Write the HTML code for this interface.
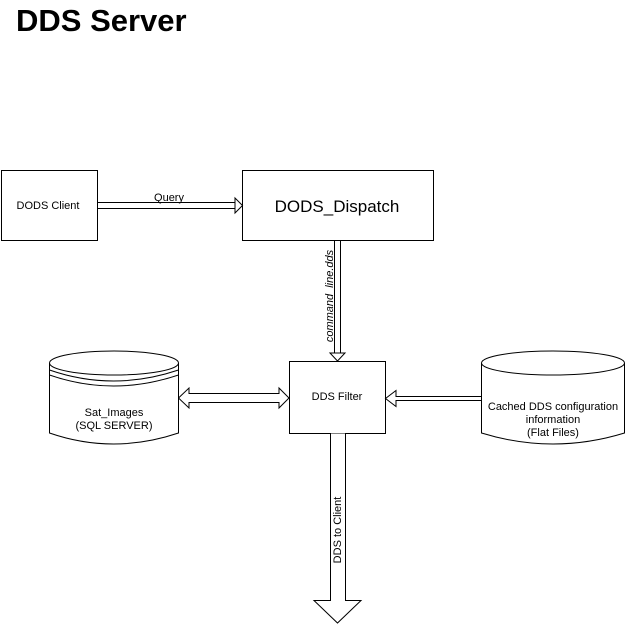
<!DOCTYPE html>
<html><head><style>
body{margin:0;background:#fff;width:626px;height:625px;overflow:hidden}
svg{display:block}
text{font-family:"Liberation Sans",Arial,sans-serif;fill:#000}
</style></head><body>
<svg width="626" height="625" viewBox="0 0 626 625">
<text x="16" y="31" font-size="31" font-weight="bold">DDS Server</text>
<g fill="#fff" stroke="#000" stroke-width="1">
<rect x="1.5" y="170.5" width="96" height="70"/>
<rect x="242.5" y="170.5" width="191" height="70"/>
<rect x="289.5" y="361.5" width="96" height="72"/>
<path d="M97.5 202.5 H235 M97.5 208.5 H235 M235 198 L242.5 205.5 L235 213 Z"/>
<path d="M334.5 240.5 V353 M340.5 240.5 V353 M330 353 L337.5 361 L345 353 Z"/>
<path d="M330.5 433.5 V600.5 H314 L337.5 623 L361 600.5 H345.5 V433.5"/>
<path d="M178.5 398 L189 388 V393.5 H279 V388 L289 398 L279 408 V402.5 H189 V408 Z"/>
<path d="M481 396.5 H396 V390.5 L385.5 398.5 L396 406.5 V400.5 H481"/>
<path d="M49.5 363 V433 Q113 455 178.5 433 V363"/>
<ellipse cx="114" cy="363" rx="64.5" ry="12"/>
<path d="M49.5 370 Q113 392 178.5 370 M49.5 375 Q113 397 178.5 375" fill="none"/>
<path d="M481.5 363 V433 Q553 455 624.5 433 V363"/>
<ellipse cx="553" cy="363" rx="71.5" ry="12"/>
</g>
<text x="48" y="209" font-size="11" text-anchor="middle">DODS Client</text>
<text x="337" y="212" font-size="17" text-anchor="middle">DODS_Dispatch</text>
<text x="169" y="201" font-size="11" text-anchor="middle">Query</text>
<text x="337" y="400" font-size="11" text-anchor="middle">DDS Filter</text>
<text x="114" y="416" font-size="11" text-anchor="middle">Sat_Images</text>
<text x="114" y="429" font-size="11" text-anchor="middle">(SQL SERVER)</text>
<text x="553" y="410" font-size="11" text-anchor="middle">Cached DDS configuration</text>
<text x="553" y="423" font-size="11" text-anchor="middle">information</text>
<text x="553" y="436" font-size="11" text-anchor="middle">(Flat Files)</text>
<text transform="translate(333,296) rotate(-90)" font-size="11" font-style="italic" text-anchor="middle">command_line.dds</text>
<text transform="translate(341,530) rotate(-90)" font-size="11" text-anchor="middle">DDS to Client</text>
</svg>
</body></html>
